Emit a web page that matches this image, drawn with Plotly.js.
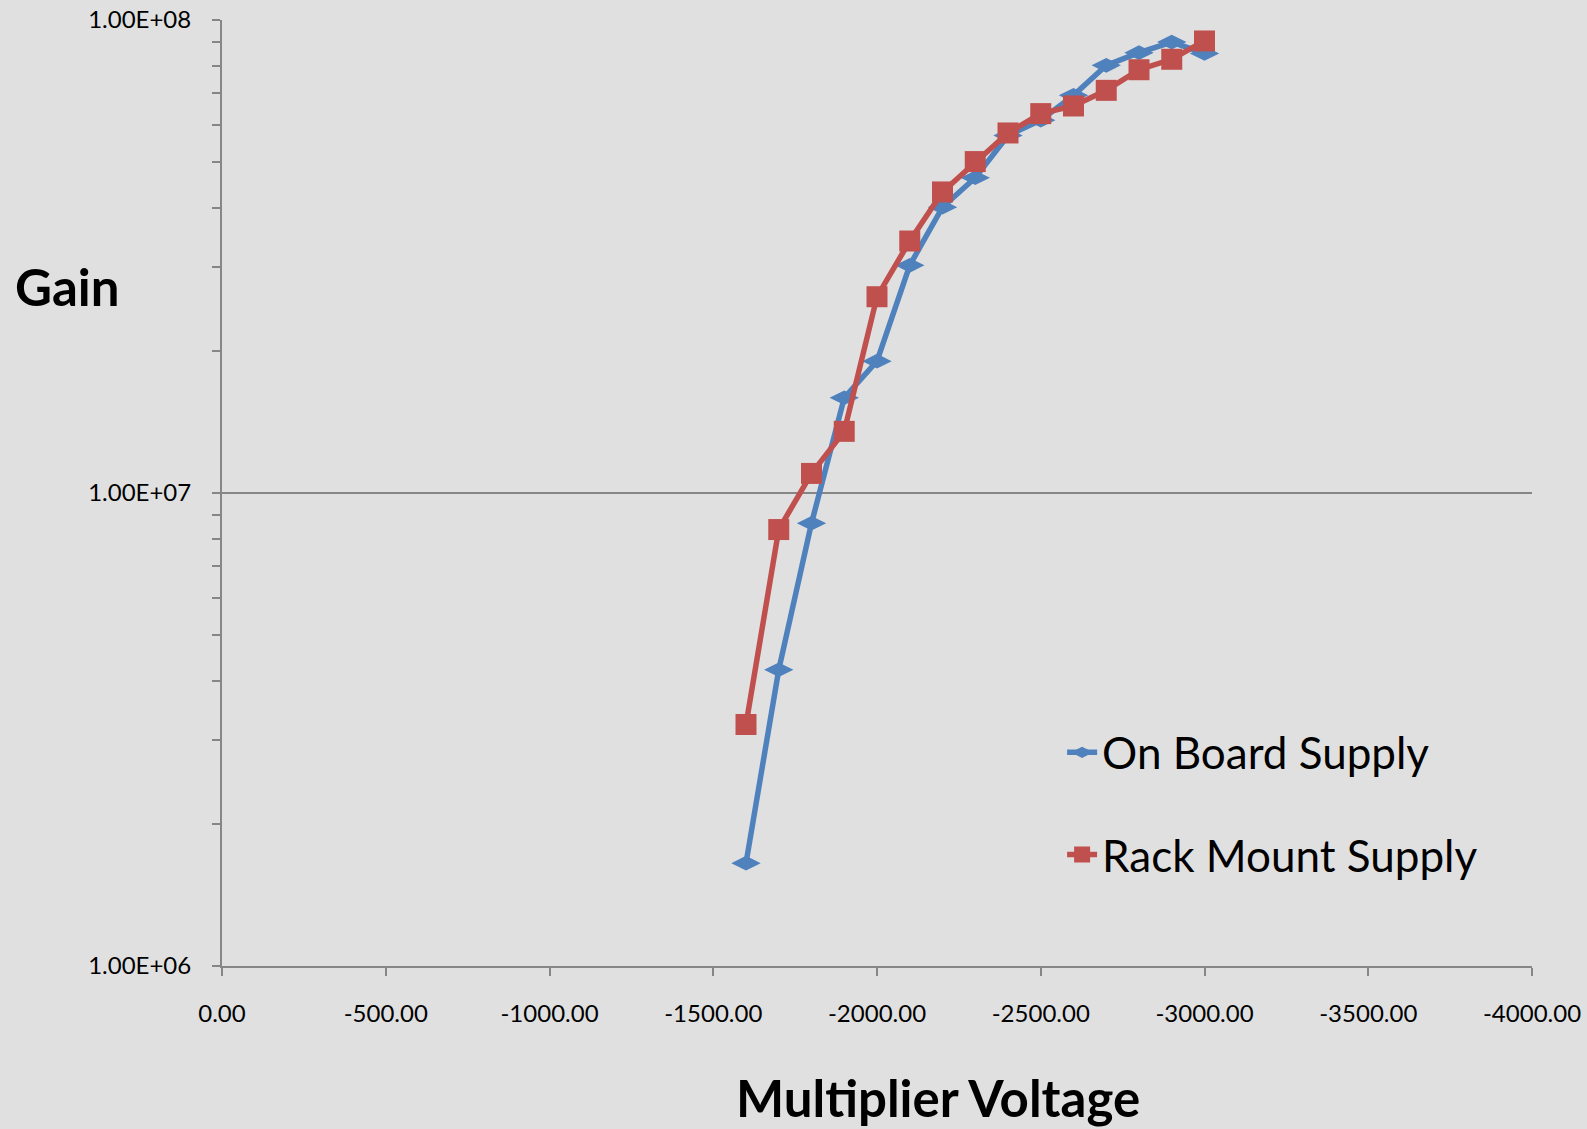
<!DOCTYPE html>
<html>
<head>
<meta charset="utf-8">
<script src="https://cdn.plot.ly/plotly-3.0.1.min.js"></script>
<style>
  html, body { margin: 0; padding: 0; background: #E0E0E0; }
  #chart { width: 1587px; height: 1129px; }
</style>
</head>
<body>
<div id="chart"></div>
<script>
// ---- Data ----
const voltage = [-1600, -1700, -1800, -1900, -2000, -2100, -2200, -2300, -2400, -2500, -2600, -2700, -2800, -2900, -3000];
const onBoardGain = [1.65e6, 4.23e6, 8.63e6, 1.59e7, 1.90e7, 3.03e7, 4.02e7, 4.64e7, 5.70e7, 6.14e7, 6.93e7, 8.02e7, 8.53e7, 8.98e7, 8.50e7];
const rackMountGain = [3.24e6, 8.37e6, 1.10e7, 1.35e7, 2.60e7, 3.41e7, 4.33e7, 5.02e7, 5.77e7, 6.34e7, 6.58e7, 7.10e7, 7.85e7, 8.26e7, 9.03e7];
const seriesNames = ["On Board Supply", "Rack Mount Supply"];

const xTickVals = [0, -500, -1000, -1500, -2000, -2500, -3000, -3500, -4000];
const xTickText = ["0.00", "-500.00", "-1000.00", "-1500.00", "-2000.00", "-2500.00", "-3000.00", "-3500.00", "-4000.00"];
const yTickVals = [1e6, 1e7, 1e8];
const yTickText = ["1.00E+06", "1.00E+07", "1.00E+08"];

const xTitle = "Multiplier Voltage";
const yTitle = "Gain";

// ---- Styles ----
const axisGray = "#868686";
const bg = "#E0E0E0";
const fontFam = "Lato, 'Open Sans', sans-serif";

const traces = [
  {
    x: voltage, y: onBoardGain, name: seriesNames[0],
    type: "scatter", mode: "lines+markers",
    line: { color: "#4F81BD", width: 5.5 },
    marker: { symbol: "diamond-wide", size: 21, color: "#4F81BD" },
    legendgroup: "a"
  },
  {
    x: voltage, y: rackMountGain, name: seriesNames[1],
    type: "scatter", mode: "lines+markers",
    line: { color: "#C0504D", width: 5.5 },
    marker: { symbol: "square", size: 21, color: "#C0504D" },
    legendgroup: "b"
  }
];

const layout = {
  width: 1587, height: 1129,
  margin: { l: 222, r: 55, t: 20, b: 163, pad: 0 },
  paper_bgcolor: bg, plot_bgcolor: bg,
  font: { family: fontFam, color: "#000000", size: 24 },
  showlegend: true,
  legend: {
    x: 0.6413, y: 0.263, xanchor: "left", yanchor: "top",
    bgcolor: "rgba(0,0,0,0)", borderwidth: 0,
    font: { family: fontFam, size: 44, color: "#000000" },
    traceorder: "grouped", tracegroupgap: 42
  },
  xaxis: {
    range: [0, -4000], autorange: false,
    tickmode: "array", tickvals: xTickVals, ticktext: xTickText,
    showgrid: false, zeroline: false,
    showline: true, linecolor: axisGray, linewidth: 2,
    ticks: "outside", ticklen: 8, tickwidth: 2, tickcolor: axisGray,
    ticklabelstandoff: 17,
    tickfont: { family: fontFam, size: 24, color: "#000000" }
  },
  yaxis: {
    type: "log", range: [6, 8], autorange: false,
    tickmode: "array", tickvals: yTickVals, ticktext: yTickText,
    showgrid: true, gridcolor: axisGray, gridwidth: 2,
    zeroline: false,
    showline: true, linecolor: axisGray, linewidth: 2,
    ticks: "outside", ticklen: 8, tickwidth: 2, tickcolor: axisGray,
    ticklabelstandoff: 16,
    tickfont: { family: fontFam, size: 24, color: "#000000" },
    minor: { ticks: "outside", ticklen: 8, tickwidth: 2, tickcolor: axisGray, dtick: "D1", showgrid: false }
  },
  annotations: [
    {
      text: "<b>" + xTitle + "</b>", xref: "paper", yref: "paper",
      x: 0.5466, y: -0.1395, xanchor: "center", yanchor: "middle",
      showarrow: false, font: { family: fontFam, size: 51, color: "#000000" }
    },
    {
      text: "<b>" + yTitle + "</b>", xref: "paper", yref: "paper",
      x: -0.1595, y: 0.7178, xanchor: "left", yanchor: "middle",
      showarrow: false, font: { family: fontFam, size: 51, color: "#000000" }
    }
  ]
};

Plotly.newPlot("chart", traces, layout, { staticPlot: true, displayModeBar: false });
</script>
</body>
</html>
